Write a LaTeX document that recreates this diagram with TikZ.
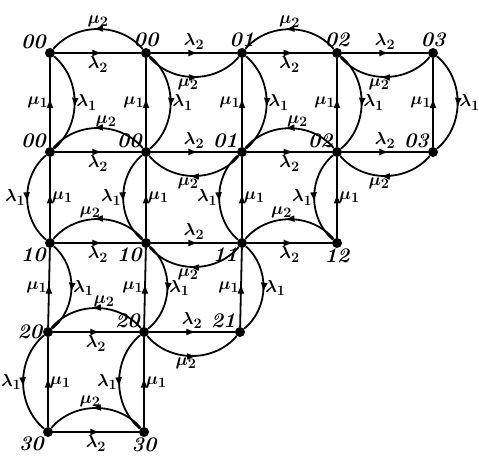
\documentclass[tikz,border=0pt]{standalone}
\usetikzlibrary{arrows.meta,decorations.markings}
\tikzset{
  dot/.style={circle,fill,inner sep=0pt,minimum size=10pt},
  lbl/.style={font=\huge\bfseries\itshape,inner sep=0.5pt},
  flow/.style={line width=1.8pt,postaction={decorate},
    decoration={markings,mark=at position 0.55 with {\arrow{Latex[length=10pt,width=7pt]}}}},
  flowback/.style={line width=1.8pt,postaction={decorate},
    decoration={markings,mark=at position 0.45 with {\arrowreversed{Latex[length=10pt,width=7pt]}}}}
}

\begin{document}
\begin{tikzpicture}[x=1pt,y=-1pt,font=\fontsize{19}{22}\selectfont\boldmath,inner sep=1pt]
  \useasboundingbox (0,0) rectangle (478,460);
  % states, row by row
  \node[dot,label={[lbl]above left:00}] (n00) at (50,53) {};
  \node[dot,label={[lbl]above:00}] (n01) at (146,53) {};
  \node[dot,label={[lbl]above:01}] (n02) at (242,53) {};
  \node[dot,label={[lbl]above:02}] (n03) at (337,53) {};
  \node[dot,label={[lbl]above:03}] (n04) at (433,53) {};
  \node[dot,label={[lbl]above left:00}] (n10) at (50,152) {};
  \node[dot,label={[lbl]above left:00}] (n11) at (146,152) {};
  \node[dot,label={[lbl]above left:01}] (n12) at (242,152) {};
  \node[dot,label={[lbl]above left:02}] (n13) at (337,152) {};
  \node[dot,label={[lbl]above left:03}] (n14) at (433,152) {};
  \node[dot,label={[lbl]below left:10}] (n20) at (50,243) {};
  \node[dot,label={[lbl]below left:10}] (n21) at (146,243) {};
  \node[dot,label={[lbl]below left:11}] (n22) at (242,243) {};
  \node[dot,label={[lbl]below:12}] (n23) at (337,243) {};
  \node[dot,label={[lbl]left:20}] (n30) at (48,332) {};
  \node[dot,label={[lbl]above left:20}] (n31) at (144,332) {};
  \node[dot,label={[lbl]above left:21}] (n32) at (240,332) {};
  \node[dot,label={[lbl]below left:30}] (n40) at (48,432) {};
  \node[dot,label={[lbl]below:30}] (n41) at (144,432) {};
  % horizontal transitions
  \foreach \r/\c/\d/\p in {0/0/1/0.5,0/2/3/0.5,1/0/1/0.42,1/2/3/0.42,2/0/1/0.58,2/2/3/0.58,3/0/1/0.42,4/0/1/0.56} {
    \draw[flow] (n\r\c) -- node[below=2pt]{$\lambda_2$} (n\r\d);
    \draw[flow] (n\r\d) to[bend right=50] node[pos=\p,above]{$\mu_2$} (n\r\c);
  }
  \foreach \r/\c/\d/\s in {0/1/2/flowback,0/3/4/flow,1/1/2/flow,1/3/4/flow,2/1/2/flow,3/1/2/flowback} {
    \draw[flow] (n\r\c) -- node[above=2pt]{$\lambda_2$} (n\r\d);
    \draw[\s] (n\r\d) to[bend left=50] node[pos=0.56,below]{$\mu_2$} (n\r\c);
  }
  % vertical transitions
  \foreach \c/\r/\s in {0/0/1,0/2/3,1/0/1,1/2/3,2/0/1,2/2/3,3/0/1,4/0/1} {
    \draw[flow] (n\s\c) -- node[left]{$\mu_1$} (n\r\c);
    \draw[flow] (n\r\c) to[bend left=50] node[right]{$\lambda_1$} (n\s\c);
  }
  \foreach \c/\r/\s in {0/1/2,0/3/4,1/1/2,1/3/4,2/1/2,3/1/2} {
    \draw[flow] (n\s\c) -- node[right]{$\mu_1$} (n\r\c);
    \draw[flow] (n\r\c) to[bend right=50] node[left]{$\lambda_1$} (n\s\c);
  }
\end{tikzpicture}
\end{document}
